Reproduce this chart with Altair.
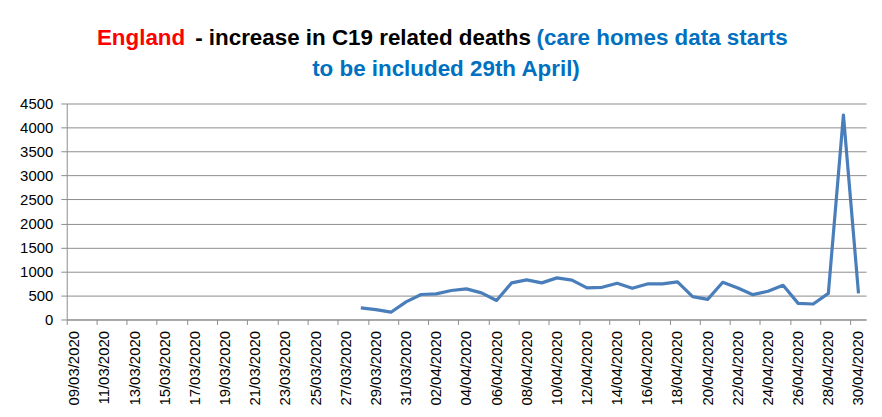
import altair as alt
import pandas as pd

# Category axis: every day from 09/03/2020 to 30/04/2020
dates = [d.strftime("%d/%m/%Y") for d in pd.date_range("2020-03-09", "2020-04-30")]
tick_dates = dates[::2]

# Daily increase in C19 related deaths (England); no data before 28/03
deaths = [None] * 19 + [
    242, 205, 152, 367,                      # 28/03 - 31/03
    520, 533, 604, 638, 555, 396, 763, 825,  # 01/04 - 08/04
    763, 867, 819, 659, 670, 755, 650, 741,  # 09/04 - 16/04
    741, 783, 476, 420, 776, 657, 517, 587,  # 17/04 - 24/04
    713, 336, 322, 545, 4260, 545,           # 25/04 - 30/04
]
y_ticks = list(range(0, 4501, 500))

title_red = "England"
title_black = "- increase in C19 related deaths"
title_blue_1 = "(care homes data starts"
title_blue_2 = "to be included 29th April)"

df = pd.DataFrame({"date": dates, "deaths": deaths})

W, H = 803, 217
AX_FONT = "Liberation Sans"
TI_FONT = "Liberation Sans"
TI_SIZE = 22.5

line = alt.Chart(df).mark_line(color="#4A7EBB", strokeWidth=3.2, strokeJoin="round").encode(
    x=alt.X(
        "date:O",
        sort=None,
        scale=alt.Scale(type="band", domain=dates, paddingInner=0, paddingOuter=0),
        axis=alt.Axis(
            values=tick_dates, labelAngle=-90, bandPosition=0,
            title=None, grid=False, tickSize=5, labelPadding=6,
            labelFont=AX_FONT, labelFontSize=15, labelColor="#000000",
            domainColor="#8c8c8c", tickColor="#8c8c8c",
        ),
    ),
    y=alt.Y(
        "deaths:Q",
        scale=alt.Scale(domain=[0, 4500], nice=False),
        axis=alt.Axis(
            values=y_ticks, format="d", title=None, grid=True, gridColor="#8c8c8c",
            tickSize=6, labelPadding=8, labelFont=AX_FONT, labelFontSize=15,
            labelColor="#000000", domainColor="#8c8c8c", tickColor="#8c8c8c",
        ),
    ),
)

def title_text(txt, color, x, y, align):
    return alt.Chart(alt.Data(values=[{}])).mark_text(
        text=txt, color=color, font=TI_FONT, fontSize=TI_SIZE, fontWeight="bold",
        align=align, baseline="alphabetic",
    ).encode(x=alt.value(x), y=alt.value(y))

t1 = title_text(title_red, "#FF0000", 119, -59, "right")
t2 = title_text(title_black, "#000000", 129, -59, "left")
t3 = title_text(title_blue_1, "#0070C0", 472, -59, "left")
t4 = title_text(title_blue_2, "#0070C0", 381, -28, "center")

chart = alt.layer(line, t1, t2, t3, t4).properties(
    width=W, height=H,
    autosize=alt.AutoSizeParams(type="none"),
    padding={"left": 59, "top": 95, "right": 8, "bottom": 90},
    background="#ffffff",
).configure_view(stroke=None)

chart.save("out.html", embed_options={"renderer": "svg", "actions": False})
